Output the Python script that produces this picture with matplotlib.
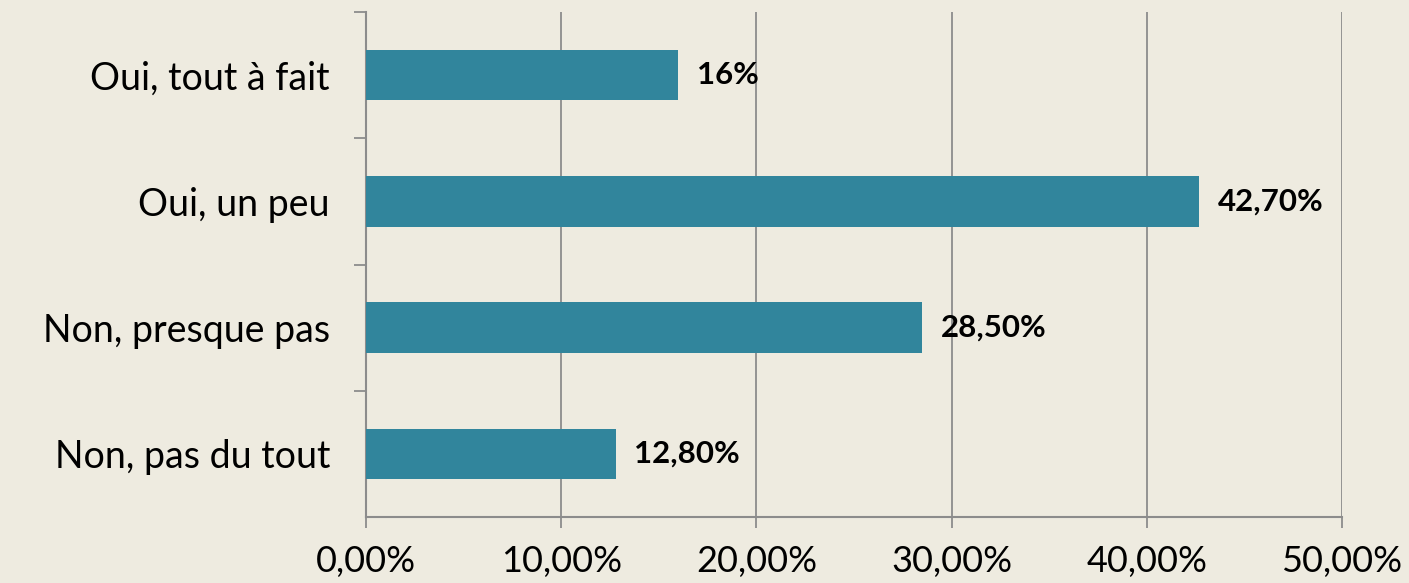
import numpy as np
import matplotlib.pyplot as plt
from matplotlib.ticker import FixedLocator

# data
categories = ["Oui, tout à fait", "Oui, un peu", "Non, presque pas", "Non, pas du tout"]
values = [16.0, 42.7, 28.5, 12.8]
value_labels = ["16%", "42,70%", "28,50%", "12,80%"]
xticks = [0, 10, 20, 30, 40, 50]
xtick_labels = ["0,00%", "10,00%", "20,00%", "30,00%", "40,00%", "50,00%"]

bg = "#EEEBE0"
bar_color = "#31859C"
grid_color = "#8C8C8C"

plt.rcParams["font.family"] = ["Lato", "DejaVu Sans"]

fig = plt.figure(figsize=(14.09, 5.83), dpi=100, facecolor=bg)
ax = fig.add_axes([0.2598, 0.1132, 0.6926, 0.8662])
ax.set_facecolor(bg)

y = np.arange(len(categories))[::-1]
ax.barh(y, values, height=0.4, color=bar_color, zorder=3)

for yi, v, lab in zip(y, values, value_labels):
    ax.text(v + 0.95, yi, lab, va="center", ha="left", fontsize=22.5,
            fontweight="bold", color="black", zorder=4)

ax.set_xlim(0, 50)
ax.set_ylim(-0.5, 3.5)
ax.set_xticks(xticks)
ax.set_xticklabels(xtick_labels, fontsize=26)
ax.set_yticks(y)
ax.set_yticklabels(categories, fontsize=27)
ax.yaxis.set_minor_locator(FixedLocator([0.5, 1.5, 2.5, 3.5]))

ax.grid(axis="x", color=grid_color, linewidth=1.3, zorder=0)
for s in ["top", "right"]:
    ax.spines[s].set_visible(False)
for s in ["left", "bottom"]:
    ax.spines[s].set_color(grid_color)
    ax.spines[s].set_linewidth(1.5)

ax.tick_params(axis="x", length=8, width=1.3, color=grid_color, pad=12)
ax.tick_params(axis="y", which="major", length=0, pad=26)
ax.tick_params(axis="y", which="minor", length=9, width=1.3, color=grid_color)

fig.savefig("out.png", dpi=100, facecolor=bg)
